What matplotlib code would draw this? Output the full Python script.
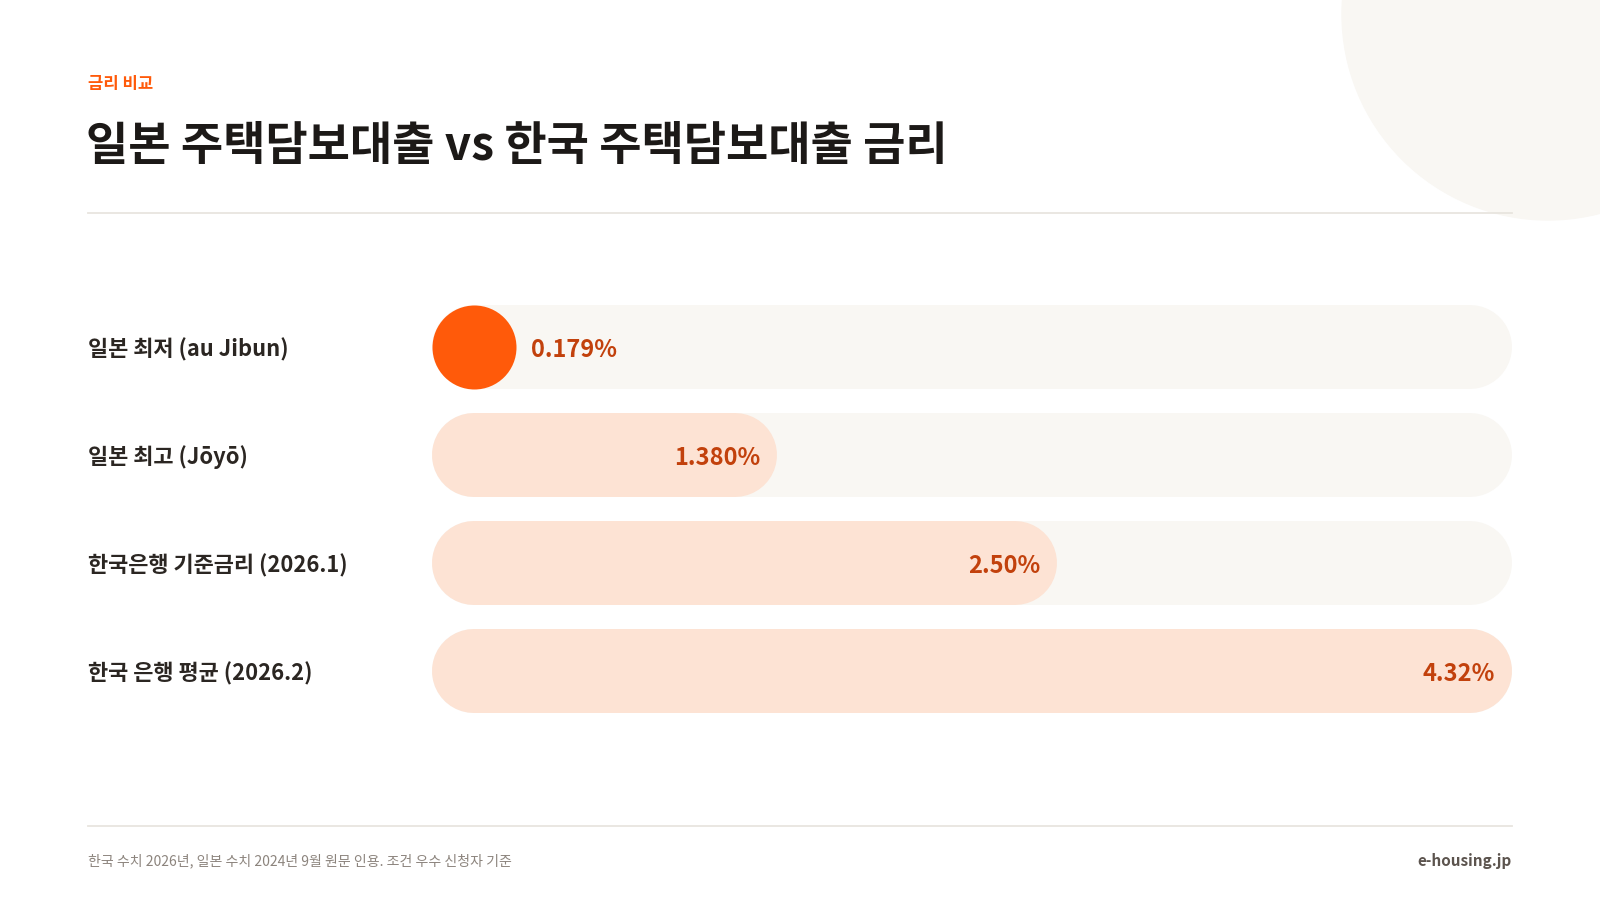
import matplotlib
matplotlib.use("Agg")
import matplotlib.pyplot as plt
from matplotlib.patches import Circle

plt.rcParams['font.family'] = ['Noto Sans CJK KR', 'DejaVu Sans']

# data
categories = ['일본 최저 (au Jibun)', '일본 최고 (Jōyō)', '한국은행 기준금리 (2026.1)', '한국 은행 평균 (2026.2)']
rates = [0.179, 1.380, 2.50, 4.32]
rate_labels = ['0.179%', '1.380%', '2.50%', '4.32%']
highlight = [True, False, False, False]

eyebrow = '금리 비교'
title = '일본 주택담보대출 vs 한국 주택담보대출 금리'
footnote = '한국 수치 2026년, 일본 수치 2024년 9월 원문 인용. 조건 우수 신청자 기준'
source = 'e-housing.jp'

ORANGE = '#FF5A0A'
PEACH = '#FDE3D4'
TRACK = '#F9F7F3'
VALUE_C = '#C2410C'
TEXT_DARK = '#1C1917'
LABEL_C = '#2B2622'
LINE_C = '#E8E5DF'

W, H = 1600, 900
PX = 72 / 100  # points per pixel at dpi 100

fig = plt.figure(figsize=(16, 9), dpi=100)
fig.patch.set_facecolor('white')

# background / layout axes in pixel coords
bg = fig.add_axes([0, 0, 1, 1])
bg.set_xlim(0, W)
bg.set_ylim(H, 0)
bg.axis('off')

bg.add_patch(Circle((1548, 14), 206, color=TRACK, zorder=0))
bg.plot([88, 1512], [213, 213], color=LINE_C, lw=1.3, zorder=1)
bg.plot([88, 1512], [826, 826], color=LINE_C, lw=1.3, zorder=1)

bg.text(88, 84, eyebrow, fontsize=12, fontweight='bold', color=ORANGE, va='center', ha='left')
bg.text(86, 146, title, fontsize=33.1, fontweight='bold', color=TEXT_DARK, va='center', ha='left')
bg.text(88, 861, footnote, fontsize=10.05, color='#8C847D', va='center', ha='left')
bg.text(1512, 861, source, fontsize=11, fontweight='bold', color='#5C544E', va='center', ha='right')

# bar axes: track spans x 432..1512 px, rows centred at 347 + 108*i
left_px, right_px, top_px, row_px = 432, 1512, 293, 108
n = len(categories)
ax = fig.add_axes([left_px / W, (H - top_px - row_px * n) / H,
                   (right_px - left_px) / W, row_px * n / H])
xmax = max(rates)
ax.set_xlim(0, xmax)
ax.set_ylim(n - 0.5, -0.5)
ax.patch.set_alpha(0)
for s in ax.spines.values():
    s.set_visible(False)

bar_h_px = 84
lw = bar_h_px * PX
r = (bar_h_px / 2) * xmax / (right_px - left_px)  # cap radius in data units

for i, (v, lab, hl) in enumerate(zip(rates, rate_labels, highlight)):
    # track
    ax.plot([r, xmax - r], [i, i], color=TRACK, lw=lw, solid_capstyle='round', zorder=1)
    # fill (min width = bar height)
    col = ORANGE if hl else PEACH
    end = max(v, 2 * r)
    if end - 2 * r < 1e-9:
        ax.plot([r], [i], marker='o', markersize=lw, markeredgewidth=0, color=col, zorder=2)
    else:
        ax.plot([r, end - r], [i, i], color=col, lw=lw, solid_capstyle='round', zorder=2)
    if end - 2 * r < 1e-9 or hl:
        ax.annotate(lab, xy=(end, i), xytext=(15 * PX, -3 * PX), textcoords='offset points',
                    ha='left', va='center', fontsize=17, fontweight='bold', color=VALUE_C, zorder=3)
    else:
        ax.annotate(lab, xy=(end, i), xytext=(-17 * PX, -3 * PX), textcoords='offset points',
                    ha='right', va='center', fontsize=17, fontweight='bold', color=VALUE_C, zorder=3)

ax.set_xticks([])
ax.set_yticks(range(n))
ax.set_yticklabels(categories, fontsize=15.8, fontweight='bold', color=LABEL_C, ha='left')
ax.tick_params(axis='y', length=0, pad=(left_px - 88) * PX)

fig.savefig('out.png', dpi=100, facecolor='white')
